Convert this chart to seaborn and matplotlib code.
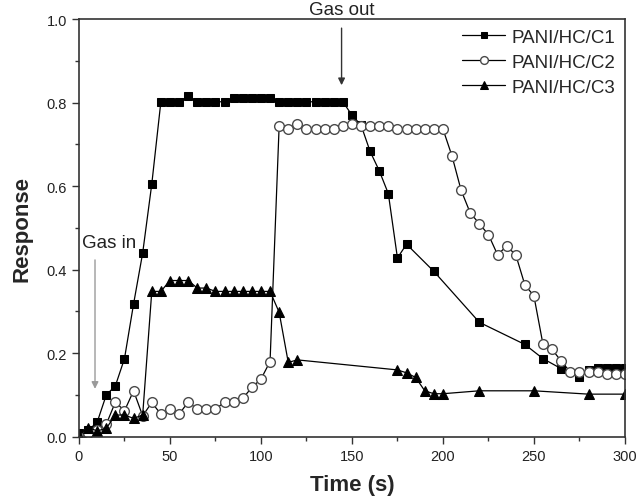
import matplotlib
matplotlib.use("Agg")
import matplotlib.pyplot as plt
import seaborn as sns
from matplotlib.ticker import MultipleLocator

# Sensor response of three PANI/HC composites over time
t_c1 = [0, 5, 10, 15, 20, 25, 30, 35, 40, 45, 50, 55, 60, 65, 70, 75, 80,
        85, 90, 95, 100, 105, 110, 115, 120, 125, 130, 135, 140, 145,
        150, 155, 160, 165, 170, 175, 180, 195, 220, 245, 255, 265, 275,
        280, 285, 290, 295, 300]
c1 = [0.01, 0.015, 0.035, 0.10, 0.122, 0.187, 0.318, 0.44, 0.605, 0.802,
      0.802, 0.802, 0.815, 0.802, 0.802, 0.802, 0.802, 0.812, 0.812, 0.812,
      0.812, 0.812, 0.802, 0.802, 0.802, 0.802, 0.802, 0.802, 0.802, 0.802,
      0.77, 0.746, 0.683, 0.637, 0.582, 0.428, 0.461, 0.396, 0.274, 0.221,
      0.187, 0.163, 0.143, 0.16, 0.165, 0.165, 0.165, 0.165]

t_c2 = [0, 5, 10, 15, 20, 25, 30, 35, 40, 45, 50, 55, 60, 65, 70, 75, 80,
        85, 90, 95, 100, 105, 110, 115, 120, 125, 130, 135, 140, 145, 150,
        155, 160, 165, 170, 175, 180, 185, 190, 195, 200, 205, 210, 215,
        220, 225, 230, 235, 240, 245, 250, 255, 260, 265, 270, 275, 280,
        285, 290, 295, 300]
c2 = [0.0, 0.01, 0.015, 0.03, 0.083, 0.062, 0.11, 0.05, 0.082, 0.054,
      0.066, 0.054, 0.083, 0.066, 0.066, 0.066, 0.083, 0.083, 0.092, 0.118,
      0.138, 0.18, 0.745, 0.737, 0.748, 0.737, 0.737, 0.737, 0.737, 0.745,
      0.748, 0.745, 0.745, 0.745, 0.745, 0.737, 0.737, 0.737, 0.737, 0.737,
      0.737, 0.672, 0.59, 0.536, 0.51, 0.484, 0.436, 0.456, 0.436, 0.364,
      0.337, 0.221, 0.209, 0.181, 0.155, 0.155, 0.155, 0.155, 0.15, 0.15,
      0.15]

t_c3 = [0, 5, 10, 15, 20, 25, 30, 35, 40, 45, 50, 55, 60, 65, 70, 75, 80,
        85, 90, 95, 100, 105, 110, 115, 120, 175, 180, 185, 190, 195, 200,
        220, 250, 280, 300]
c3 = [0.005, 0.022, 0.014, 0.02, 0.052, 0.052, 0.044, 0.052, 0.348, 0.348,
      0.374, 0.374, 0.374, 0.356, 0.356, 0.348, 0.348, 0.348, 0.348, 0.348,
      0.348, 0.348, 0.298, 0.178, 0.184, 0.16, 0.153, 0.142, 0.11, 0.103,
      0.103, 0.11, 0.11, 0.102, 0.102]

labels = ["PANI/HC/C1", "PANI/HC/C2", "PANI/HC/C3"]
x_ticks = [0, 50, 100, 150, 200, 250, 300]
y_ticks = [0.0, 0.2, 0.4, 0.6, 0.8, 1.0]

sns.set_style("ticks")
plt.rcParams["font.family"] = ["Liberation Sans", "DejaVu Sans"]

fig = plt.figure(figsize=(6.37, 5.02), dpi=100)
ax = fig.add_axes([0.124, 0.128, 0.857, 0.832])

line_kw = dict(ax=ax, color="black", linewidth=0.9, sort=False)
sns.lineplot(x=t_c1, y=c1, marker="s", markersize=6,
             markerfacecolor="black", markeredgecolor="black",
             label=labels[0], **line_kw)
sns.lineplot(x=t_c2, y=c2, marker="o", markersize=7,
             markerfacecolor="white", markeredgecolor="#4a4a4a",
             markeredgewidth=1.0, label=labels[1], **line_kw)
sns.lineplot(x=t_c3, y=c3, marker="^", markersize=7.5,
             markerfacecolor="black", markeredgecolor="black",
             label=labels[2], **line_kw)

ax.set_xlim(0, 300)
ax.set_ylim(0, 1.0)
ax.set_xticks(x_ticks)
ax.set_yticks(y_ticks)
ax.set_yticklabels([f"{v:.1f}" for v in y_ticks])
ax.xaxis.set_minor_locator(MultipleLocator(25))
ax.yaxis.set_minor_locator(MultipleLocator(0.1))
ax.tick_params(which="major", direction="out", length=5, width=1,
               labelsize=10.5, labelcolor="#222222", color="#333333",
               top=False, right=False)
ax.tick_params(which="minor", direction="out", length=3, width=1,
               color="#333333", top=False, right=False)
for sp in ax.spines.values():
    sp.set_linewidth(1.2)
    sp.set_color("#333333")

ax.set_xlabel("Time (s)", fontsize=16, fontweight="bold", labelpad=8)
ax.set_ylabel("Response", fontsize=16, fontweight="bold", labelpad=10)

# Gas exposure markers
ax.annotate("", xy=(8.8, 0.108), xytext=(8.8, 0.43),
            arrowprops=dict(arrowstyle="-|>", color="#9a9a9a", lw=1.0,
                            mutation_scale=10))
ax.text(16.5, 0.465, "Gas in", fontsize=13.5, ha="center", va="center",
        color="#222222")
ax.annotate("", xy=(144.3, 0.835), xytext=(144.3, 0.985),
            arrowprops=dict(arrowstyle="-|>", color="#333333", lw=1.0,
                            mutation_scale=10))
ax.text(144.3, 1.003, "Gas out", fontsize=13.5, ha="center", va="bottom",
        color="#222222")

ax.legend(loc="upper right", frameon=False, fontsize=13.5,
          handlelength=2.3, handletextpad=0.35, labelspacing=0.42,
          borderaxespad=0.2, borderpad=0.3, markerscale=0.8)

fig.savefig("out.png", dpi=100)
